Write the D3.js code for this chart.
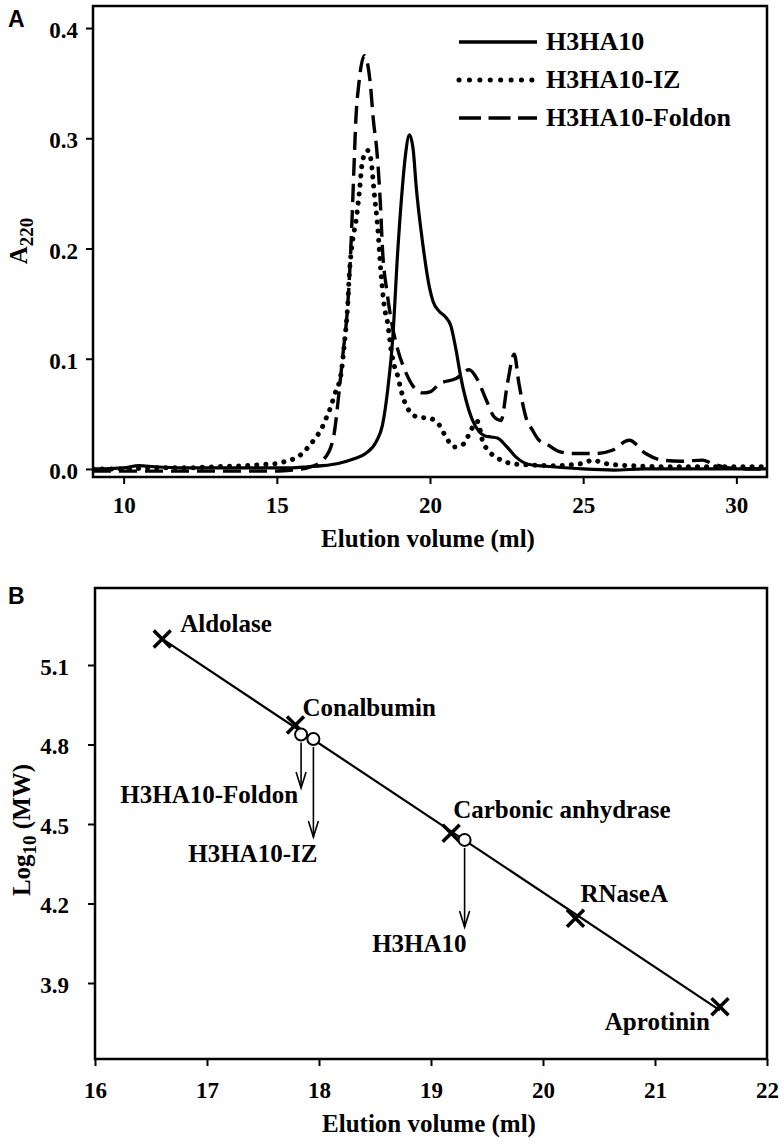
<!DOCTYPE html>
<html>
<head>
<meta charset="utf-8">
<script src="https://cdn.jsdelivr.net/npm/d3@7"></script>
<style>
  html, body { margin: 0; padding: 0; background: #fff; }
  svg text { font-family: "Liberation Serif", "Times New Roman", serif; font-weight: bold; fill: #000; }
</style>
</head>
<body>
<script>
// ---------------- DATA: Panel A (chromatograms) ----------------
const seriesNames = ["H3HA10", "H3HA10-IZ", "H3HA10-Foldon"];

const h3ha10X = [9, 10, 10.5, 11, 12, 13, 14, 15, 15.5, 16, 16.5, 17, 17.5, 17.9, 18.25, 18.45, 18.62, 18.78, 18.95, 19.1, 19.2, 19.33, 19.45, 19.55, 19.76, 19.98, 20.1, 20.3, 20.5, 20.68, 20.85, 21.0, 21.17, 21.39, 21.6, 21.8, 22.0, 22.2, 22.48, 22.8, 23.24, 24.0, 25, 26, 27, 28, 29, 30, 31];
const h3ha10Y = [0.000, 0.001, 0.003, 0.002, 0.001, 0.001, 0.001, 0.001, 0.001, 0.002, 0.003, 0.005, 0.009, 0.014, 0.025, 0.040, 0.072, 0.117, 0.199, 0.256, 0.285, 0.303, 0.290, 0.256, 0.205, 0.165, 0.152, 0.143, 0.138, 0.130, 0.108, 0.084, 0.063, 0.044, 0.034, 0.030, 0.029, 0.028, 0.021, 0.011, 0.004, 0.002, 0.000, -0.001, 0.000, 0.000, 0.000, 0.000, 0.000];

const izX = [9, 10, 11, 12, 13, 14, 14.5, 15, 15.3, 15.74, 16.0, 16.23, 16.45, 16.61, 16.77, 16.88, 17.1, 17.21, 17.31, 17.37, 17.48, 17.59, 17.7, 17.8, 17.97, 18.08, 18.18, 18.29, 18.4, 18.51, 18.62, 18.73, 18.84, 18.95, 19.05, 19.27, 19.6, 19.98, 20.3, 20.52, 20.79, 21.12, 21.28, 21.55, 21.72, 21.93, 22.32, 22.64, 23.0, 24, 25, 25.3, 25.7, 26.5, 28, 30, 31];
const izY = [0.000, 0.000, 0.001, 0.001, 0.002, 0.003, 0.004, 0.005, 0.007, 0.012, 0.019, 0.027, 0.036, 0.046, 0.057, 0.067, 0.087, 0.115, 0.147, 0.178, 0.208, 0.226, 0.253, 0.280, 0.289, 0.279, 0.250, 0.220, 0.178, 0.147, 0.132, 0.108, 0.093, 0.084, 0.072, 0.055, 0.047, 0.046, 0.040, 0.029, 0.020, 0.023, 0.032, 0.043, 0.025, 0.016, 0.008, 0.005, 0.004, 0.003, 0.005, 0.008, 0.005, 0.003, 0.002, 0.002, 0.002];

const foldonX = [9, 10, 11, 12, 13, 14, 15, 15.5, 16.0, 16.5, 16.83, 17.04, 17.15, 17.31, 17.4, 17.46, 17.52, 17.58, 17.68, 17.86, 18.05, 18.15, 18.27, 18.38, 18.45, 18.6, 18.78, 18.95, 19.22, 19.54, 19.76, 20.0, 20.3, 20.85, 21.28, 21.55, 21.83, 22.1, 22.32, 22.53, 22.75, 22.9, 23.13, 23.35, 23.56, 23.78, 24.2, 24.65, 25.41, 25.95, 26.5, 27.04, 27.58, 28.2, 28.9, 29.2, 29.76, 30.5, 31];
const foldonY = [-0.002, -0.002, -0.002, -0.002, -0.002, -0.002, -0.002, -0.001, 0.001, 0.008, 0.026, 0.072, 0.102, 0.147, 0.190, 0.230, 0.275, 0.317, 0.350, 0.375, 0.350, 0.317, 0.287, 0.241, 0.199, 0.160, 0.128, 0.108, 0.087, 0.072, 0.069, 0.070, 0.077, 0.082, 0.090, 0.081, 0.063, 0.047, 0.044, 0.078, 0.104, 0.078, 0.047, 0.035, 0.026, 0.023, 0.016, 0.014, 0.014, 0.017, 0.026, 0.014, 0.008, 0.007, 0.008, 0.005, 0.001, 0.000, 0.000];

const aXTicks = [10, 15, 20, 25, 30];
const aYTicks = [0.0, 0.1, 0.2, 0.3, 0.4];

// ---------------- DATA: Panel B (calibration) ----------------
const standardNames = ["Aldolase", "Conalbumin", "Carbonic anhydrase", "RNaseA", "Aprotinin"];
const standardVol = [16.6, 17.79, 19.18, 20.29, 21.58];
const standardLogMW = [5.198, 4.874, 4.465, 4.144, 3.810];

const sampleNames = ["H3HA10-Foldon", "H3HA10-IZ", "H3HA10"];
const sampleVol = [17.84, 17.95, 19.30];
const sampleLogMW = [4.838, 4.821, 4.440];
const sampleArrowEnd = [4.636, 4.451, 4.111];

const bXTicks = [16, 17, 18, 19, 20, 21, 22];
const bYTicks = [3.9, 4.2, 4.5, 4.8, 5.1];

// ---------------- DRAW ----------------
const SERIF = "Liberation Serif, Times New Roman, serif";
const svg = d3.select("body").append("svg").attr("width", 784).attr("height", 1146);

function styleAxis(g, textX, textY, dy) {
  g.attr("font-family", null).attr("font-size", null);
  g.select(".domain").remove();
  g.selectAll(".tick line").attr("stroke", "#000").attr("stroke-width", 2);
  const t = g.selectAll(".tick text").attr("font-size", 23).attr("dy", dy)
    .style("font-family", SERIF).style("font-weight", "bold");
  if (textX !== null) t.attr("x", textX);
  if (textY !== null) t.attr("y", textY);
}

// ===== Panel A =====
const xA = d3.scaleLinear().domain([9, 31]).range([93, 767]);
const yA = d3.scaleLinear().domain([-0.0073, 0.42]).range([477, 6]);

const gA = svg.append("g");
const axA = gA.append("g").attr("transform", "translate(0,477)")
  .call(d3.axisBottom(xA).tickValues(aXTicks).tickSize(7).tickSizeOuter(0).tickFormat(d3.format("d")));
styleAxis(axA, null, 20, "0.71em");
const ayA = gA.append("g").attr("transform", "translate(93,0)")
  .call(d3.axisLeft(yA).tickValues(aYTicks).tickSize(7).tickSizeOuter(0).tickFormat(d3.format(".1f")));
styleAxis(ayA, -15, null, "0.42em");

gA.append("rect").attr("x", 93).attr("y", 6).attr("width", 674).attr("height", 471)
  .attr("fill", "none").attr("stroke", "#000").attr("stroke-width", 2.5);

const lineA = d3.line().x(d => xA(d[0])).y(d => yA(d[1])).curve(d3.curveMonotoneX);
const seriesData = [
  d3.zip(h3ha10X, h3ha10Y),
  d3.zip(izX, izY),
  d3.zip(foldonX, foldonY)
];
const styles = [
  { dash: null, width: 3.2, cap: "butt" },
  { dash: "0.1 9", width: 5, cap: "round" },
  { dash: "18 8", width: 3.4, cap: "butt" }
];
gA.append("defs").append("clipPath").attr("id", "clipA")
  .append("rect").attr("x", 93).attr("y", 6).attr("width", 674).attr("height", 471);
const curves = gA.append("g").attr("clip-path", "url(#clipA)");
seriesData.forEach((d, i) => {
  curves.append("path").attr("d", lineA(d)).attr("fill", "none").attr("stroke", "#000")
    .attr("stroke-width", styles[i].width)
    .attr("stroke-dasharray", styles[i].dash)
    .attr("stroke-linecap", styles[i].cap)
    .attr("stroke-linejoin", "round");
});

// legend
const legend = gA.append("g");
const legendDash = [null, "0.1 10.3", "22 7.5"];
seriesNames.forEach((nm, i) => {
  const y = 42 + i * 38;
  legend.append("line").attr("x1", 459).attr("x2", 537).attr("y1", y).attr("y2", y)
    .attr("stroke", "#000").attr("stroke-width", i === 1 ? 5 : 3.5)
    .attr("stroke-dasharray", legendDash[i]).attr("stroke-linecap", i === 1 ? "round" : "butt");
  legend.append("text").attr("x", 546).attr("y", y + 8).attr("font-size", 26).text(nm);
});

gA.append("text").attr("x", xA(20) - 2).attr("y", 547).attr("text-anchor", "middle")
  .attr("font-size", 25).text("Elution volume (ml)");
const ytA = gA.append("text").attr("transform", "translate(27,241) rotate(-90)")
  .attr("text-anchor", "middle").attr("font-size", 25);
ytA.append("tspan").text("A");
ytA.append("tspan").attr("font-size", 19).attr("dy", 6).text("220");

svg.append("text").attr("x", 8).attr("y", 27).attr("font-size", 23)
  .style("font-family", "Liberation Sans, Arial, sans-serif").style("font-weight", "bold").text("A");

// ===== Panel B =====
const xB = d3.scaleLinear().domain([16, 22]).range([95, 767]);
const yB = d3.scaleLinear().domain([3.9, 5.1]).range([983, 665]);
const gB = svg.append("g");

const axB = gB.append("g").attr("transform", "translate(0,1059)")
  .call(d3.axisBottom(xB).tickValues(bXTicks).tickSize(7).tickSizeOuter(0).tickFormat(d3.format("d")));
styleAxis(axB, null, 23, "0.71em");
const ayB = gB.append("g").attr("transform", "translate(95,0)")
  .call(d3.axisLeft(yB).tickValues(bYTicks).tickSize(7).tickSizeOuter(0).tickFormat(d3.format(".1f")));
styleAxis(ayB, -26, null, "0.4em");

gB.append("rect").attr("x", 95).attr("y", 588).attr("width", 672).attr("height", 471)
  .attr("fill", "none").attr("stroke", "#000").attr("stroke-width", 2.5);

// regression line through standards
const n = standardVol.length;
const mx = d3.mean(standardVol), my = d3.mean(standardLogMW);
let sxy = 0, sxx = 0;
for (let i = 0; i < n; i++) { sxy += (standardVol[i] - mx) * (standardLogMW[i] - my); sxx += (standardVol[i] - mx) ** 2; }
const slope = sxy / sxx, icpt = my - slope * mx;
const x0 = d3.min(standardVol), x1 = d3.max(standardVol);
gB.append("line").attr("x1", xB(x0)).attr("y1", yB(icpt + slope * x0))
  .attr("x2", xB(x1)).attr("y2", yB(icpt + slope * x1))
  .attr("stroke", "#000").attr("stroke-width", 2.2);

standardVol.forEach((v, i) => {
  gB.append("path").attr("transform", `translate(${xB(v)},${yB(standardLogMW[i])})`)
    .attr("d", "M-8.5,-8.5L8.5,8.5M-8.5,8.5L8.5,-8.5")
    .attr("stroke", "#000").attr("stroke-width", 3.5).attr("fill", "none");
});
const stdLabelOffset = [[18, -7, "start"], [7, -9, "start"], [2, -15, "start"], [5, -16, "start"], [-10, 23, "end"]];
standardNames.forEach((nm, i) => {
  const o = stdLabelOffset[i];
  gB.append("text").attr("x", xB(standardVol[i]) + o[0]).attr("y", yB(standardLogMW[i]) + o[1])
    .attr("text-anchor", o[2]).attr("font-size", 25).text(nm);
});

const sampleLabel = [[-3, 15], [4, 25], [2, 25]];
sampleVol.forEach((v, i) => {
  const x = xB(v), yTop = yB(sampleLogMW[i]) + 8, yEnd = yB(sampleArrowEnd[i]);
  gB.append("line").attr("x1", x).attr("x2", x).attr("y1", yTop).attr("y2", yEnd)
    .attr("stroke", "#000").attr("stroke-width", 1.6);
  gB.append("path").attr("d", `M${x - 5},${yEnd - 16}L${x},${yEnd}L${x + 5},${yEnd - 16}`)
    .attr("stroke", "#000").attr("stroke-width", 1.6).attr("fill", "none");
  gB.append("text").attr("x", x + sampleLabel[i][0]).attr("y", yEnd + sampleLabel[i][1])
    .attr("text-anchor", "end").attr("font-size", 25).text(sampleNames[i]);
});
sampleVol.forEach((v, i) => {
  gB.append("circle").attr("cx", xB(v)).attr("cy", yB(sampleLogMW[i])).attr("r", 6)
    .attr("fill", "#fff").attr("stroke", "#000").attr("stroke-width", 2);
});

gB.append("text").attr("x", xB(19) - 2).attr("y", 1132).attr("text-anchor", "middle")
  .attr("font-size", 25).text("Elution volume (ml)");
const ytB = gB.append("text").attr("transform", "translate(30,830) rotate(-90)")
  .attr("text-anchor", "middle").attr("font-size", 25);
ytB.append("tspan").text("Log");
ytB.append("tspan").attr("font-size", 19).attr("dy", 6).text("10");
ytB.append("tspan").attr("dy", -6).text(" (MW)");

svg.append("text").attr("x", 8).attr("y", 604).attr("font-size", 23)
  .style("font-family", "Liberation Sans, Arial, sans-serif").style("font-weight", "bold").text("B");
</script>
</body>
</html>
